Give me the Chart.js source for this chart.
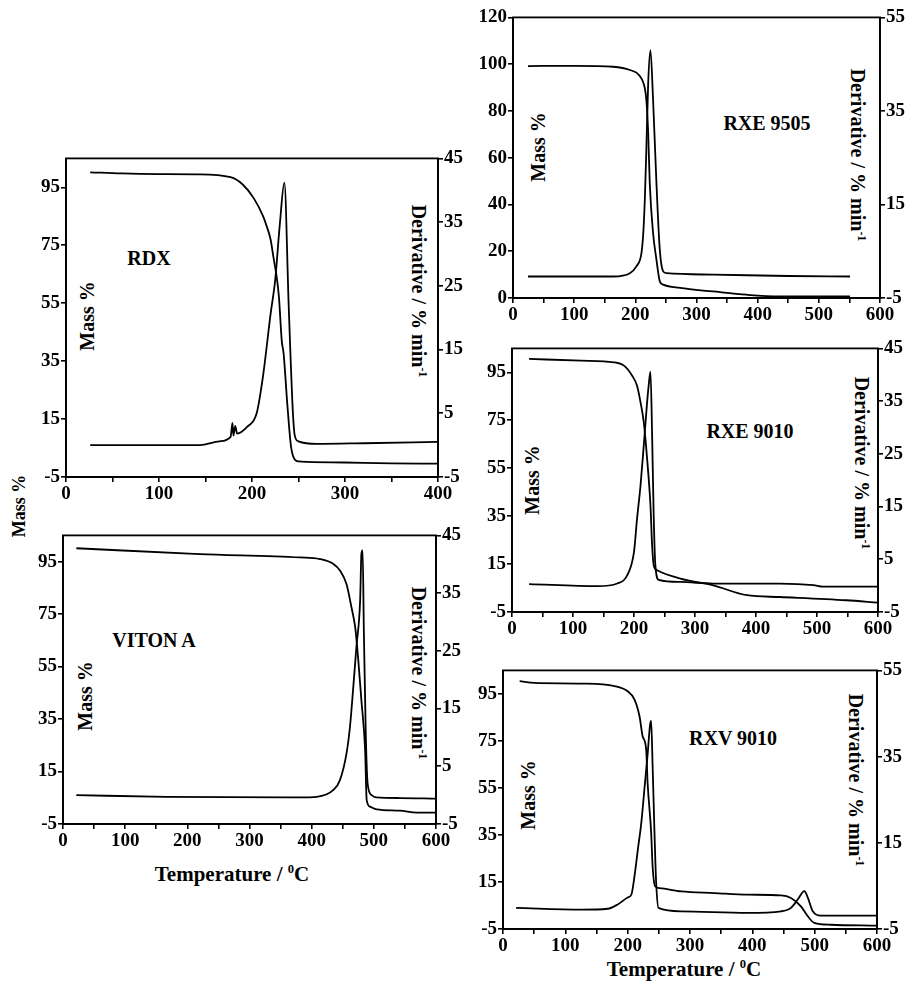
<!DOCTYPE html>
<html><head><meta charset="utf-8">
<script src="https://cdn.jsdelivr.net/npm/chart.js@4/dist/chart.umd.min.js"></script>
<style>
body{margin:0;background:#fff;width:911px;height:991px;position:relative;overflow:hidden;font-family:"Liberation Serif","Times New Roman",serif;font-weight:bold;color:#000}
.lbl{position:absolute;white-space:nowrap;font-size:20px;line-height:1;transform:translate(-50%,-50%)}
.up{transform:translate(-50%,-50%) rotate(-90deg)}
.down{transform:translate(-50%,-50%) rotate(90deg)}
sup{font-size:0.6em;vertical-align:0.6em;line-height:0}
canvas{position:absolute}
</style></head><body>

<div class="lbl up" style="left:19px;top:506px;font-size:18px">Mass %</div>
<div class="lbl" style="left:232px;top:874px;font-size:21px">Temperature / <sup>0</sup>C</div>
<div class="lbl" style="left:684px;top:969px;font-size:21px">Temperature / <sup>0</sup>C</div>

<div class="lbl" style="left:149px;top:258px">RDX</div>
<div class="lbl up" style="left:87px;top:316px">Mass %</div>
<div class="lbl down" style="left:419px;top:291px">Derivative / % min<sup>-1</sup></div>

<div class="lbl" style="left:767px;top:123px">RXE 9505</div>
<div class="lbl up" style="left:538px;top:147px">Mass %</div>
<div class="lbl down" style="left:858px;top:155px">Derivative / % min<sup>-1</sup></div>

<div class="lbl" style="left:750px;top:431px">RXE 9010</div>
<div class="lbl up" style="left:532px;top:480px">Mass %</div>
<div class="lbl down" style="left:862px;top:463px">Derivative / % min<sup>-1</sup></div>

<div class="lbl" style="left:154px;top:640px">VITON A</div>
<div class="lbl up" style="left:85px;top:696px">Mass %</div>
<div class="lbl down" style="left:419px;top:673px">Derivative / % min<sup>-1</sup></div>

<div class="lbl" style="left:733px;top:738px">RXV 9010</div>
<div class="lbl up" style="left:528px;top:795px">Mass %</div>
<div class="lbl down" style="left:856px;top:780px">Derivative / % min<sup>-1</sup></div>

<script>
// ---------- DATA ----------
// RDX
const rdxMassT  = [26, 60, 100, 140, 177, 190, 202, 212, 216, 220, 223, 227, 229, 232, 234, 238, 242, 246.6, 250, 260, 300, 350, 399];
const rdxMass   = [100.2, 99.8, 99.6, 99.5, 98.5, 96, 91.2, 85, 81.4, 77, 71, 63, 57, 42, 37.6, 20, 5.4, 0.8, 0.4, 0.2, 0, -0.3, -0.4];
const rdxDerT   = [26, 100, 144, 165, 177, 179, 180, 182, 184, 195, 205, 212, 220, 225, 230, 234.8, 239.5, 244, 246, 250, 270, 320, 399];
const rdxDer    = [0, 0, 0, 0.6, 1.3, 3.5, 1.5, 3, 1.8, 2.9, 5, 11, 20.6, 26, 34.8, 41.2, 21.7, 5, 1.5, 0.6, 0.2, 0.3, 0.5];
// RXE 9505
const r95MassT  = [24.5, 100, 164, 191, 207, 215.5, 218, 221, 223.6, 229, 234.5, 240, 245.5, 273, 327, 382, 436, 551];
const r95Mass   = [99.2, 99.3, 98.9, 97.5, 95, 89.7, 84.7, 70.5, 49, 27.8, 16.4, 7.1, 5.7, 4.3, 2.8, 1.4, 0.7, 0.7];
const r95DerT   = [24.5, 100, 164, 191, 202, 210, 213, 215.5, 218, 221, 224.7, 229, 234.5, 240, 245.5, 251, 327, 450, 551];
const r95Der    = [-0.4, -0.4, -0.4, 0.3, 1.8, 4.6, 8.9, 16, 26.7, 40.9, 48, 37.4, 19.6, 5.3, 0.7, 0.3, 0, -0.3, -0.4];
// RXE 9010
const r90MassT  = [28, 113, 167, 183.5, 197, 205, 210.7, 216, 221.5, 227, 229.7, 232.4, 238, 276, 330, 385, 439, 548, 600];
const r90Mass   = [100.6, 99.9, 99.2, 97.8, 93.6, 89.4, 82.5, 74.2, 58.9, 39.4, 22.8, 14.4, 12.4, 8.9, 6.1, 2, 1.25, -0.1, -1.1];
const r90DerT   = [28, 140, 172.6, 189, 200, 205, 210.7, 216, 221.5, 224, 227, 229.7, 232.4, 235, 240.6, 276, 330, 439, 494, 510, 600];
const r90Der    = [0.3, -0.1, 0.4, 2, 6.4, 12.7, 19, 26.6, 34.8, 37.9, 40.6, 28.5, 12.7, 3.9, 1.1, 0.7, 0.4, 0.4, 0.1, -0.2, -0.2];
// VITON A
const vitMassT  = [21.5, 220, 381, 413, 435, 445.5, 456, 464, 470, 475, 480, 486, 488.5, 494, 504.5, 542, 569, 600];
const vitMass   = [100.1, 97.9, 96.6, 96, 94.1, 91.6, 86.5, 77.6, 70, 57.4, 42.1, 23.1, 4.1, 1.6, 0.6, 0.1, -0.7, -0.7];
const vitDerT   = [21.5, 166, 381, 408, 435, 445.5, 456, 461.6, 467, 472, 478, 480, 482, 484, 487, 490, 496.5, 504, 542, 600];
const vitDer    = [0, -0.3, -0.4, -0.3, 0.9, 2.6, 7.2, 11.8, 18.8, 25.7, 33.8, 41.8, 42.4, 28, 10.7, 2, 0, -0.4, -0.5, -0.6];
// RXV 9010
const rxvMassT  = [26.7, 50.7, 125.5, 179, 200, 211, 219, 224, 229.7, 232, 237.7, 240, 244, 251, 286, 339, 392.6, 446, 462, 478, 489, 499.5, 526, 600];
const rxvMass   = [100.4, 99.7, 99.4, 98.3, 96.1, 92.6, 85.5, 77, 71.3, 57.1, 35.9, 21.7, 13.2, 12.4, 11, 10.3, 9.6, 9.3, 8.2, 4.6, 0.4, -2.4, -3.2, -3.6];
const rxvDerT   = [21, 125.5, 168, 184, 200, 206, 211, 216.5, 222, 227, 232, 236, 237.7, 240, 243, 245.7, 249.5, 286, 392.6, 446, 462, 473, 483.5, 489, 497, 510, 600];
const rxvDer    = [-0.1, -0.5, -0.3, 0.7, 2.3, 3, 7.3, 13.6, 19.8, 27.7, 35.5, 42.5, 43.3, 33, 17.5, 5.8, -0.1, -0.9, -1.25, -0.9, -0.1, 1.9, 3.8, 2.3, -0.9, -1.9, -1.9];

// tick values
const xTicks400   = [0, 50, 100, 150, 200, 250, 300, 350, 400];
const xTicks600   = [0, 50, 100, 150, 200, 250, 300, 350, 400, 450, 500, 550, 600];
const massTicksA  = [-5, 15, 35, 55, 75, 95];
const massTicksB  = [0, 20, 40, 60, 80, 100, 120];
const derTicks45  = [-5, 5, 15, 25, 35, 45];
const derTicks55  = [-5, 15, 35, 55];

// ---------- LAYOUT ----------
const YW = 50, PT = 12, XH = 30;
const FONT = {family: '"Liberation Serif", "Times New Roman", serif', size: 19, weight: 'bold'};

const boxPlugin = {
  id: 'box',
  afterDraw(c) {
    const a = c.chartArea, ctx = c.ctx;
    ctx.save();
    ctx.strokeStyle = '#000';
    ctx.lineWidth = 1.8;
    ctx.strokeRect(a.left, a.top, a.right - a.left, a.bottom - a.top);
    ctx.restore();
  }
};

function axisCommon(ticks, fit) {
  return {
    afterBuildTicks: s => { s.ticks = ticks.map(v => ({value: v})); },
    afterFit: fit,
    grid: {display: true, drawOnChartArea: false, drawTicks: true, tickLength: 5, color: '#000', lineWidth: 1.6},
    border: {display: true, color: '#000', width: 1.8},
  };
}

function panel(box, xMax, xTicks, mMin, mMax, mTicks, dMin, dMax, dTicks, mT, m, dT, d) {
  const cv = document.createElement('canvas');
  const w = (box.R - box.L) + 2 * YW, h = (box.B - box.T) + PT + XH;
  cv.width = w; cv.height = h;
  cv.style.left = (box.L - YW) + 'px';
  cv.style.top = (box.T - PT) + 'px';
  document.body.appendChild(cv);
  const line = {borderColor: '#000', borderWidth: 1.8, pointRadius: 0, fill: false, cubicInterpolationMode: 'monotone'};
  new Chart(cv, {
    type: 'line',
    data: {
      datasets: [
        Object.assign({data: mT.map((t, i) => ({x: t, y: m[i]})), yAxisID: 'y'}, line),
        Object.assign({data: dT.map((t, i) => ({x: t, y: d[i]})), yAxisID: 'y1'}, line)
      ]
    },
    options: {
      responsive: false, animation: false, events: [],
      layout: {padding: {top: PT, left: 0, right: 0, bottom: 0}},
      plugins: {legend: {display: false}, tooltip: {enabled: false}},
      scales: {
        x: Object.assign(axisCommon(xTicks, s => { s.height = XH; }), {
          type: 'linear', min: 0, max: xMax,
          ticks: {font: FONT, color: '#000', padding: 1, maxRotation: 0, autoSkip: false,
                  callback: v => (v % 100 === 0 ? String(v) : '')}
        }),
        y: Object.assign(axisCommon(mTicks, s => { s.width = YW; }), {
          type: 'linear', position: 'left', min: mMin, max: mMax,
          ticks: {font: FONT, color: '#000', padding: 1, autoSkip: false}
        }),
        y1: Object.assign(axisCommon(dTicks, s => { s.width = YW; }), {
          type: 'linear', position: 'right', min: dMin, max: dMax,
          ticks: {font: FONT, color: '#000', padding: 1, autoSkip: false}
        })
      }
    },
    plugins: [boxPlugin]
  });
}

panel({L: 66, R: 438, T: 158, B: 477}, 400, xTicks400, -5, 105, massTicksA, -5, 45, derTicks45, rdxMassT, rdxMass, rdxDerT, rdxDer);
panel({L: 513, R: 880, T: 17, B: 298}, 600, xTicks600, 0, 120, massTicksB, -5, 55, derTicks55, r95MassT, r95Mass, r95DerT, r95Der);
panel({L: 512, R: 878, T: 348, B: 612}, 600, xTicks600, -5, 105, massTicksA, -5, 45, derTicks45, r90MassT, r90Mass, r90DerT, r90Der);
panel({L: 63, R: 436, T: 535, B: 824}, 600, xTicks600, -5, 105, massTicksA, -5, 45, derTicks45, vitMassT, vitMass, vitDerT, vitDer);
panel({L: 503, R: 877, T: 670, B: 929}, 600, xTicks600, -5, 105, massTicksA, -5, 55, derTicks55, rxvMassT, rxvMass, rxvDerT, rxvDer);
</script>
</body></html>
